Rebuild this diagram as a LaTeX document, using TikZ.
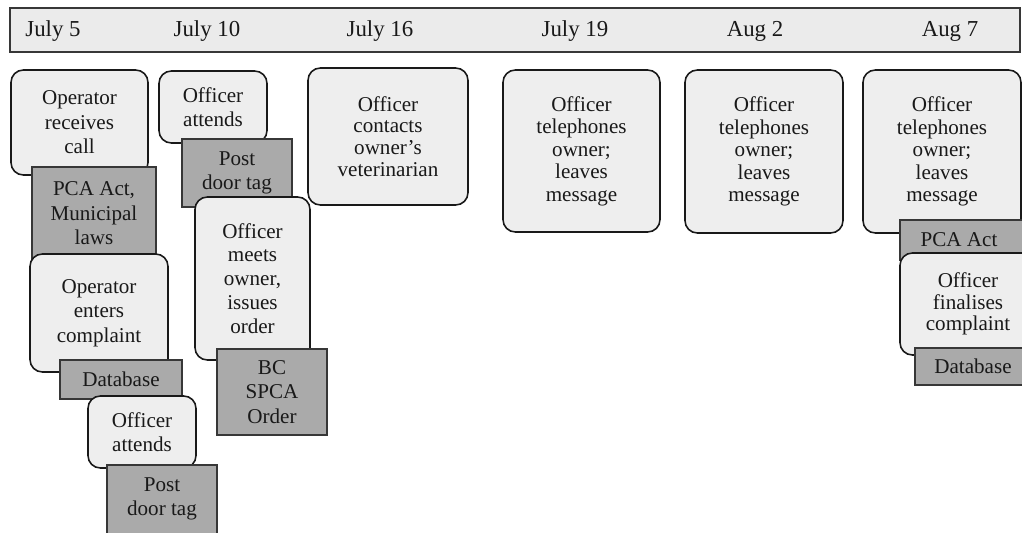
\documentclass[tikz,border=0pt]{standalone}
\usepackage{fontspec}
\setmainfont{Liberation Serif}
\usetikzlibrary{positioning}
\definecolor{HeadFill}{RGB}{235,235,235}
\definecolor{EventFill}{RGB}{238,238,238}
\definecolor{DocFill}{RGB}{170,170,170}
\definecolor{Ink}{RGB}{25,25,25}
\definecolor{DocEdge}{RGB}{55,55,55}
\tikzset{
  event/.style={draw=Ink,line width=.9pt,rounded corners=7pt,fill=EventFill,align=center,text=Ink,font=\fontsize{12}{14}\selectfont,inner sep=0pt},
  doc/.style={draw=DocEdge,line width=.6pt,fill=DocFill,align=center,text=Ink,font=\fontsize{12}{14}\selectfont,inner sep=0pt},
  leading/.style={font=\fontsize{12}{#1pt}\selectfont},
  headbar/.style={draw=DocEdge,line width=1.1pt,fill=HeadFill,minimum width=20.2cm,minimum height=.88cm,inner sep=0pt},
  datelab/.style={font=\fontsize{13}{15}\selectfont,text=Ink,inner sep=0pt}
}
\begin{document}
\begin{tikzpicture}[x=.02cm,y=-.02cm]
  \clip (0,0) rectangle (1022,532);
  \node[headbar] (bar) at (515,30) {};
  \foreach \n/\x/\d in {d1/53/July 5,d2/207/July 10,d3/380/July 16,d4/575/July 19,d5/755/Aug 2,d6/950/Aug 7}{
    \node[datelab] (\n) at (\x,31) {\d};
  }
  \node[event,minimum width=2.74cm,minimum height=2.10cm] (call) at (79.5,122.5) {Operator\\receives\\call};
  \node[doc,minimum width=2.48cm,minimum height=1.86cm] (laws) at (94,213.5) {PCA Act,\\Municipal\\laws};
  \node[event,minimum width=2.76cm,minimum height=2.36cm] (enters) at (99,313) {Operator\\enters\\complaint};
  \node[doc,minimum width=2.44cm,minimum height=.78cm] (dbA) at (121,379.5) {Database};
  \node[event,minimum width=2.16cm,minimum height=1.44cm] (attendsB) at (142,432) {Officer\\attends};
  \node[doc,minimum width=2.20cm,minimum height=1.60cm,text depth=.9cm] (tagB) at (162,505) {};
  \node[align=center,font=\fontsize{12}{14}\selectfont,text=Ink,inner sep=0pt] (tagBtext) at (162,499) {Post\\door tag};
  \node[event,minimum width=2.16cm,minimum height=1.44cm] (attendsA) at (213,107) {Officer\\attends};
  \node[doc,minimum width=2.20cm,minimum height=1.36cm] (tagA) at (237,173) {Post\\door tag};
  \node[event,leading=13.6,minimum width=2.30cm,minimum height=3.26cm] (meets) at (252.5,278.5) {Officer\\meets\\owner,\\issues\\order};
  \node[doc,minimum width=2.20cm,minimum height=1.72cm] (order) at (272,392) {BC\\SPCA\\Order};
  \node[event,leading=12.4,minimum width=3.20cm,minimum height=2.74cm] (vet) at (388,136.5) {Officer\\contacts\\owner’s\\veterinarian};
  \node[event,leading=12.8,minimum width=3.14cm,minimum height=3.24cm] (phoneA) at (581.5,151) {Officer\\telephones\\owner;\\leaves\\message};
  \node[event,leading=12.8,minimum width=3.16cm,minimum height=3.26cm] (phoneB) at (764,151.5) {Officer\\telephones\\owner;\\leaves\\message};
  \node[event,leading=12.8,minimum width=3.16cm,minimum height=3.26cm] (phoneC) at (942,151.5) {Officer\\telephones\\owner;\\leaves\\message};
  \node[doc,minimum width=2.48cm,minimum height=.80cm] (act) at (962,240) {};
  \node[font=\fontsize{12}{14}\selectfont,text=Ink,inner sep=0pt] (acttext) at (959,240) {PCA Act};
  \node[event,leading=12.4,minimum width=2.72cm,minimum height=2.04cm] (final) at (968,304) {Officer\\finalises\\complaint};
  \node[doc,minimum width=2.32cm,minimum height=.74cm] (dbB) at (973,366.5) {Database};
\end{tikzpicture}
\end{document}
